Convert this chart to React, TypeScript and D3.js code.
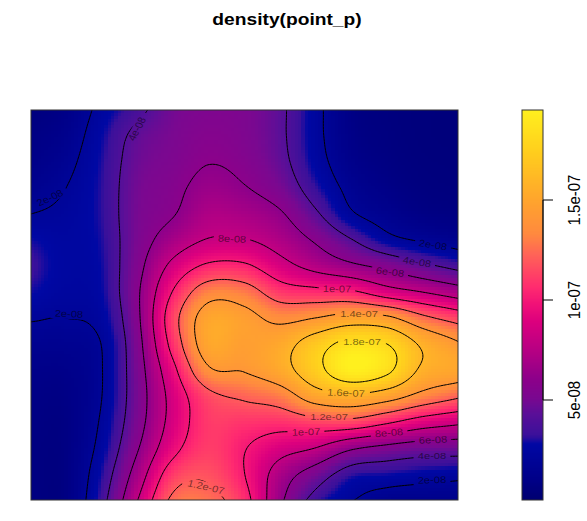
import React, { useMemo } from "react";
import * as d3 from "d3";

const titleText = "density(point_p)";
const xKnots = [31, 66, 102, 137, 173, 208, 244, 280, 315, 351, 387, 422, 458];
const yKnots = [110, 136, 162, 188, 214, 240, 266, 292, 318, 344, 370, 396, 422, 448, 474, 500];
// density values in units of 1e-8, one column per x knot, top to bottom
const col031 = [0.6, 0.8, 1.0, 1.4, 2.0, 2.9, 3.3, 2.9, 2.1, 1.5, 1.1, 0.9, 0.8, 0.7, 0.7, 0.7];
const col066 = [1.0, 1.3, 1.65, 2.0, 2.3, 2.5, 2.55, 2.4, 2.0, 1.5, 1.1, 0.9, 0.8, 0.8, 0.8, 0.8];
const col102 = [2.4, 2.8, 3.0, 3.1, 3.1, 3.0, 2.9, 2.8, 2.5, 2.05, 1.97, 2.0, 2.2, 2.5, 3.0, 3.45];
const col137 = [3.6, 4.4, 4.7, 4.9, 5.0, 5.1, 5.4, 5.7, 5.6, 5.3, 5.1, 5.0, 5.2, 5.8, 6.8, 7.9];
const col173 = [4.9, 5.1, 5.3, 5.6, 5.9, 6.9, 8.5, 10.1, 11.2, 10.7, 9.5, 8.7, 8.7, 9.4, 11, 12.4];
const col208 = [5.3, 5.6, 5.95, 6.5, 7.2, 8.1, 10.3, 13.1, 14.9, 15, 13.7, 11.5, 11, 11.1, 11.7, 12.6];
const col244 = [5.2, 5.3, 5.6, 6.1, 7.0, 8.1, 10.3, 12.9, 14.6, 14.6, 14.1, 12.3, 10.9, 10.1, 10.05, 10.7];
const col280 = [4.3, 4.3, 4.5, 5.1, 6.2, 7.2, 8.7, 11, 13.5, 15.2, 15.2, 13, 10.8, 8.8, 7.1, 6.4];
const col315 = [2.4, 2.4, 2.6, 3.2, 4.3, 5.8, 7.4, 10.6, 14, 17, 17.3, 15, 11.3, 8, 5.1, 3.4];
const col351 = [0.9, 1, 1.2, 1.6, 2.2, 4.1, 6.4, 10.3, 14.8, 18.6, 19.4, 15.7, 11.4, 6.3, 3.2, 2.1];
const col387 = [0.6, 0.65, 0.75, 0.95, 1.4, 2.5, 5.5, 8.9, 14.4, 18, 18.4, 14.9, 10.3, 5.5, 2.9, 1.3];
const col422 = [0.5, 0.5, 0.55, 0.65, 0.9, 1.85, 4.4, 8, 12.5, 15.7, 15.7, 13.4, 9.1, 5, 2.6, 1.2];
const col458 = [0.45, 0.45, 0.5, 0.55, 0.75, 1.4, 3.5, 7, 11.2, 14.2, 15, 12.3, 8.4, 4.9, 2.4, 1.2];
const columns = [col031, col066, col102, col137, col173, col208, col244, col280, col315, col351, col387, col422, col458];

const contourLevels = [2, 4, 6, 8, 10, 12, 14, 16, 18];
const colourStops = [0, 1, 2.8, 3.2, 4.3, 5.1, 6.1, 7.25, 8.9, 9.75, 10.6, 12.25, 13.3, 15, 17.5, 19.5];
const colourValues = ["#000070", "#000088", "#0008a4", "#3a109a", "#5a0f98", "#7a0890", "#8e008a", "#b00084", "#dc007e", "#f01078", "#ff2a70", "#ff6358", "#ff8a3f", "#ffa52d", "#ffd01d", "#fff01e"];
const barTicks = [5, 10, 15];
const barTickLabels = ["5e-08", "1e-07", "1.5e-07"];
// contour labels: text, x position, y position, angle
const labelTexts = ["2e-08", "4e-08", "8e-08", "2e-08", "4e-08", "6e-08", "1e-07", "2e-08", "1.2e-07", "1.4e-07", "1.8e-07", "1.6e-07", "1.2e-07", "1e-07", "8e-08", "6e-08", "4e-08", "2e-08"];
const labelX = [50, 137, 232, 433, 417, 390, 337, 69, 206, 359, 362, 346, 329, 306, 389, 433, 432, 432];
const labelY = [198, 129, 239, 245, 262, 272, 289, 314, 487, 314, 342, 393, 417, 432, 433, 440, 456, 480];
const labelAngle = [-28, -65, 3, 10, 10, 8, 1, 3, 15, 0, 0, 3, 0, -2, -5, -3, 0, -2];

const WIDTH = 587, HEIGHT = 521;
const frame = { l: 31, r: 458, t: 110, b: 500 };
const bar = { l: 522, r: 543, t: 110, b: 500 };
const zMin = 0, zMax = 19.5;
const STRETCH = 1.157;

function locate(knots: number[], v: number): [number, number] {
  let i = d3.bisectRight(knots, v) - 1;
  i = Math.max(0, Math.min(knots.length - 2, i));
  return [i, (v - knots[i]) / (knots[i + 1] - knots[i])];
}
function catmull(a: number, b: number, c: number, d: number, t: number) {
  return 0.5 * (2 * b + (c - a) * t + (2 * a - 5 * b + 4 * c - d) * t * t + (3 * b - a - 3 * c + d) * t * t * t);
}
function at(arr: number[], i: number) {
  if (i < 0) return 2 * arr[0] - arr[1];
  if (i >= arr.length) return 2 * arr[arr.length - 1] - arr[arr.length - 2];
  return arr[i];
}
function field(x: number, y: number) {
  const [ci, ct] = locate(xKnots, x);
  const [ri, rt] = locate(yKnots, y);
  const vals = [-1, 0, 1, 2].map((dc) => {
    const c = ci + dc;
    const column = c < 0 ? columns[0].map((v, k) => 2 * v - columns[1][k]) : c >= columns.length ? columns[columns.length - 1].map((v, k) => 2 * v - columns[columns.length - 2][k]) : columns[c];
    return catmull(at(column, ri - 1), at(column, ri), at(column, ri + 1), at(column, ri + 2), rt);
  });
  return catmull(vals[0], vals[1], vals[2], vals[3], ct);
}

export default function App() {
  const colour = useMemo(() => d3.scaleLinear<string>().domain(colourStops).range(colourValues).clamp(true), []);
  const barY = useMemo(() => d3.scaleLinear().domain([zMin, zMax]).range([bar.b, bar.t]), []);

  const rasterUrl = useMemo(() => {
    const n = 128;
    const cv = document.createElement("canvas");
    cv.width = n; cv.height = n;
    const ctx = cv.getContext("2d")!;
    const sx = d3.scaleLinear().domain([0, n]).range([frame.l, frame.r]);
    const sy = d3.scaleLinear().domain([0, n]).range([frame.t, frame.b]);
    for (let j = 0; j < n; j++) for (let i = 0; i < n; i++) {
      ctx.fillStyle = colour(field(sx(i + 0.5), sy(j + 0.5)));
      ctx.fillRect(i, j, 1, 1);
    }
    return cv.toDataURL();
  }, [colour]);

  const barUrl = useMemo(() => {
    const n = 128;
    const cv = document.createElement("canvas");
    cv.width = 1; cv.height = n;
    const ctx = cv.getContext("2d")!;
    for (let j = 0; j < n; j++) {
      ctx.fillStyle = colour(zMax - ((j + 0.5) / n) * (zMax - zMin));
      ctx.fillRect(0, j, 1, 1);
    }
    return cv.toDataURL();
  }, [colour]);

  const contourPaths = useMemo(() => {
    const step = 1.5, pad = 3;
    const nx = Math.ceil((frame.r - frame.l + 2 * pad) / step) + 1;
    const ny = Math.ceil((frame.b - frame.t + 2 * pad) / step) + 1;
    const values = new Float64Array(nx * ny);
    for (let j = 0; j < ny; j++) for (let i = 0; i < nx; i++) {
      values[j * nx + i] = field(frame.l - pad + i * step, frame.t - pad + j * step);
    }
    const gen = d3.contours().size([nx, ny]).thresholds(contourLevels);
    const proj = d3.geoIdentity().scale(step).translate([frame.l - pad - 0.5 * step, frame.t - pad - 0.5 * step]);
    const path = d3.geoPath(proj as any);
    return gen(values as any).map((g) => path(g) || "");
  }, []);

  const labelW = (t: string) => t.length * 5.55 + 9;

  return (
    <svg width={WIDTH} height={HEIGHT} style={{ position: "absolute", left: 0, top: 0, display: "block", background: "#fff" }} fontFamily="'Liberation Sans', Arial, sans-serif">
      <defs>
        <clipPath id="plotClip"><rect x={frame.l} y={frame.t} width={frame.r - frame.l} height={frame.b - frame.t} /></clipPath>
        <mask id="labelGaps" maskUnits="userSpaceOnUse" x={0} y={0} width={WIDTH} height={HEIGHT}>
          <rect x={0} y={0} width={WIDTH} height={HEIGHT} fill="#fff" />
          {labelTexts.map((t, i) => (
            <rect key={i} x={-labelW(t) / 2} y={-5} width={labelW(t)} height={10} fill="#000"
              transform={`translate(${labelX[i]},${labelY[i]}) rotate(${labelAngle[i]})`} />
          ))}
        </mask>
      </defs>
      <text transform={`translate(287,24.5) scale(${STRETCH},1)`} textAnchor="middle" fontSize={16.6} fontWeight="bold" fill="#000">{titleText}</text>
      <image href={rasterUrl} x={frame.l} y={frame.t} width={frame.r - frame.l} height={frame.b - frame.t} preserveAspectRatio="none" style={{ imageRendering: "pixelated" }} />
      <g clipPath="url(#plotClip)">
        <g mask="url(#labelGaps)" fill="none" stroke="#000" strokeWidth={1}>
          {contourPaths.map((d, i) => <path key={i} d={d} />)}
        </g>
        {labelTexts.map((t, i) => (
          <text key={i} textAnchor="middle" dominantBaseline="central" fontSize={9.6} fill="#000" fillOpacity={0.55}
            transform={`translate(${labelX[i]},${labelY[i]}) scale(${STRETCH},1) rotate(${labelAngle[i]})`}>{t}</text>
        ))}
      </g>
      <rect x={frame.l} y={frame.t} width={frame.r - frame.l} height={frame.b - frame.t} fill="none" stroke="#333" strokeWidth={1} />
      <image href={barUrl} x={bar.l} y={bar.t} width={bar.r - bar.l} height={bar.b - bar.t} preserveAspectRatio="none" />
      <rect x={bar.l} y={bar.t} width={bar.r - bar.l} height={bar.b - bar.t} fill="none" stroke="#333" strokeWidth={1} />
      <line x1={bar.r} x2={bar.r} y1={barY(barTicks[0])} y2={barY(barTicks[barTicks.length - 1])} stroke="#000" />
      {barTicks.map((v, i) => (
        <g key={v} transform={`translate(${bar.r},${barY(v)})`}>
          <line x1={0} x2={10} y1={0} y2={0} stroke="#000" />
          <text transform={`translate(37,0) scale(${STRETCH},1) rotate(-90)`} textAnchor="middle" fontSize={15} fill="#000">{barTickLabels[i]}</text>
        </g>
      ))}
    </svg>
  );
}
